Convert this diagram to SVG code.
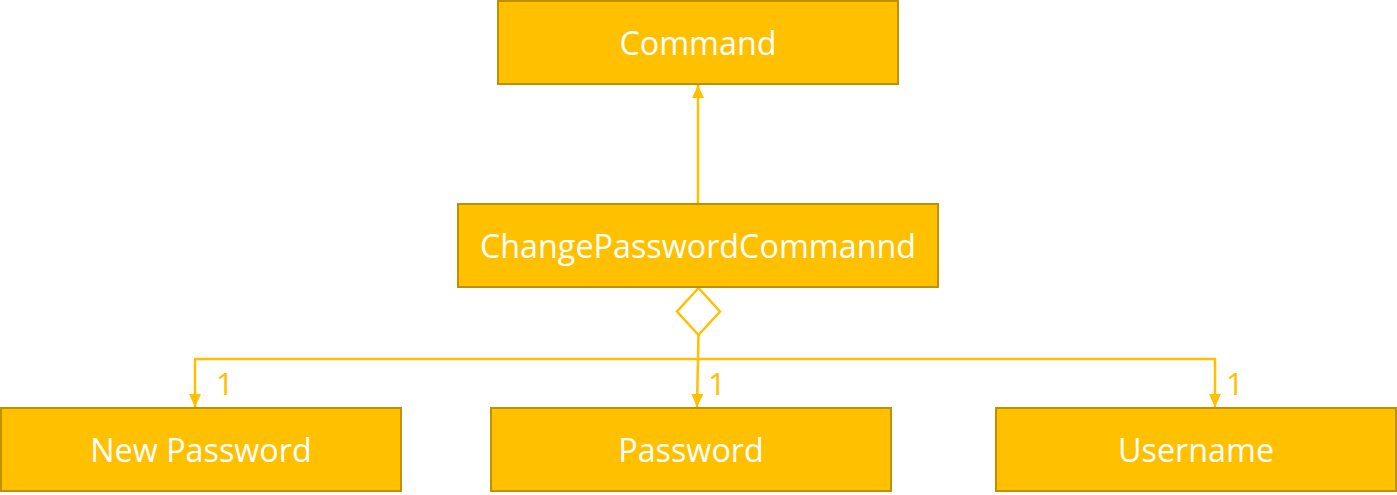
<svg xmlns="http://www.w3.org/2000/svg" width="1397" height="495" viewBox="0 0 1397 495">
<style>
.box{fill:#FFC000;stroke:#BF9000;stroke-width:2}
.lbl{font-family:"Open Sans","Liberation Sans",sans-serif;font-size:32.3px;fill:#FFFFFF;text-anchor:middle;dominant-baseline:central}
.mult{font-family:"Open Sans","Liberation Sans",sans-serif;font-size:31px;fill:#FFC000}
.ln{fill:none;stroke:#FFC000;stroke-width:2.5}
</style>
<defs>
<marker id="arr" viewBox="0 0 13 12" refX="13" refY="6" markerWidth="13" markerHeight="12" markerUnits="userSpaceOnUse" orient="auto">
<path d="M0,0 L13,6 L0,12 z" fill="#FFC000"/>
</marker>
</defs>
<rect width="1397" height="495" fill="#FFFFFF"/>
<g id="connectors">
<line class="ln" x1="698" y1="204" x2="698" y2="85" marker-end="url(#arr)"/>
<path class="ln" d="M698.5,288 L720,311.5 L698.5,335 L677,311.5 Z" fill="#FFFFFF"/>
<line class="ln" x1="698.5" y1="335" x2="697" y2="407" marker-end="url(#arr)"/>
<line class="ln" x1="194" y1="359" x2="1216" y2="359"/>
<line class="ln" x1="195" y1="359" x2="195" y2="407" marker-end="url(#arr)"/>
<line class="ln" x1="1215" y1="359" x2="1215" y2="407" marker-end="url(#arr)"/>
<text class="mult" x="216" y="395">1</text>
<text class="mult" x="708" y="395">1</text>
<text class="mult" x="1226" y="395">1</text>
</g>
<g id="command">
<rect class="box" x="498" y="1" width="400" height="83"/>
<text class="lbl" x="698" y="42">Command</text>
</g>
<g id="changepassword">
<rect class="box" x="458" y="204" width="480" height="83"/>
<text class="lbl" x="698" y="245">ChangePasswordCommannd</text>
</g>
<g id="newpassword">
<rect class="box" x="1" y="408" width="400" height="83"/>
<text class="lbl" x="201" y="449">New Password</text>
</g>
<g id="password">
<rect class="box" x="491" y="408" width="400" height="83"/>
<text class="lbl" x="691" y="449">Password</text>
</g>
<g id="username">
<rect class="box" x="996" y="408" width="400" height="83"/>
<text class="lbl" x="1196" y="449">Username</text>
</g>
</svg>
